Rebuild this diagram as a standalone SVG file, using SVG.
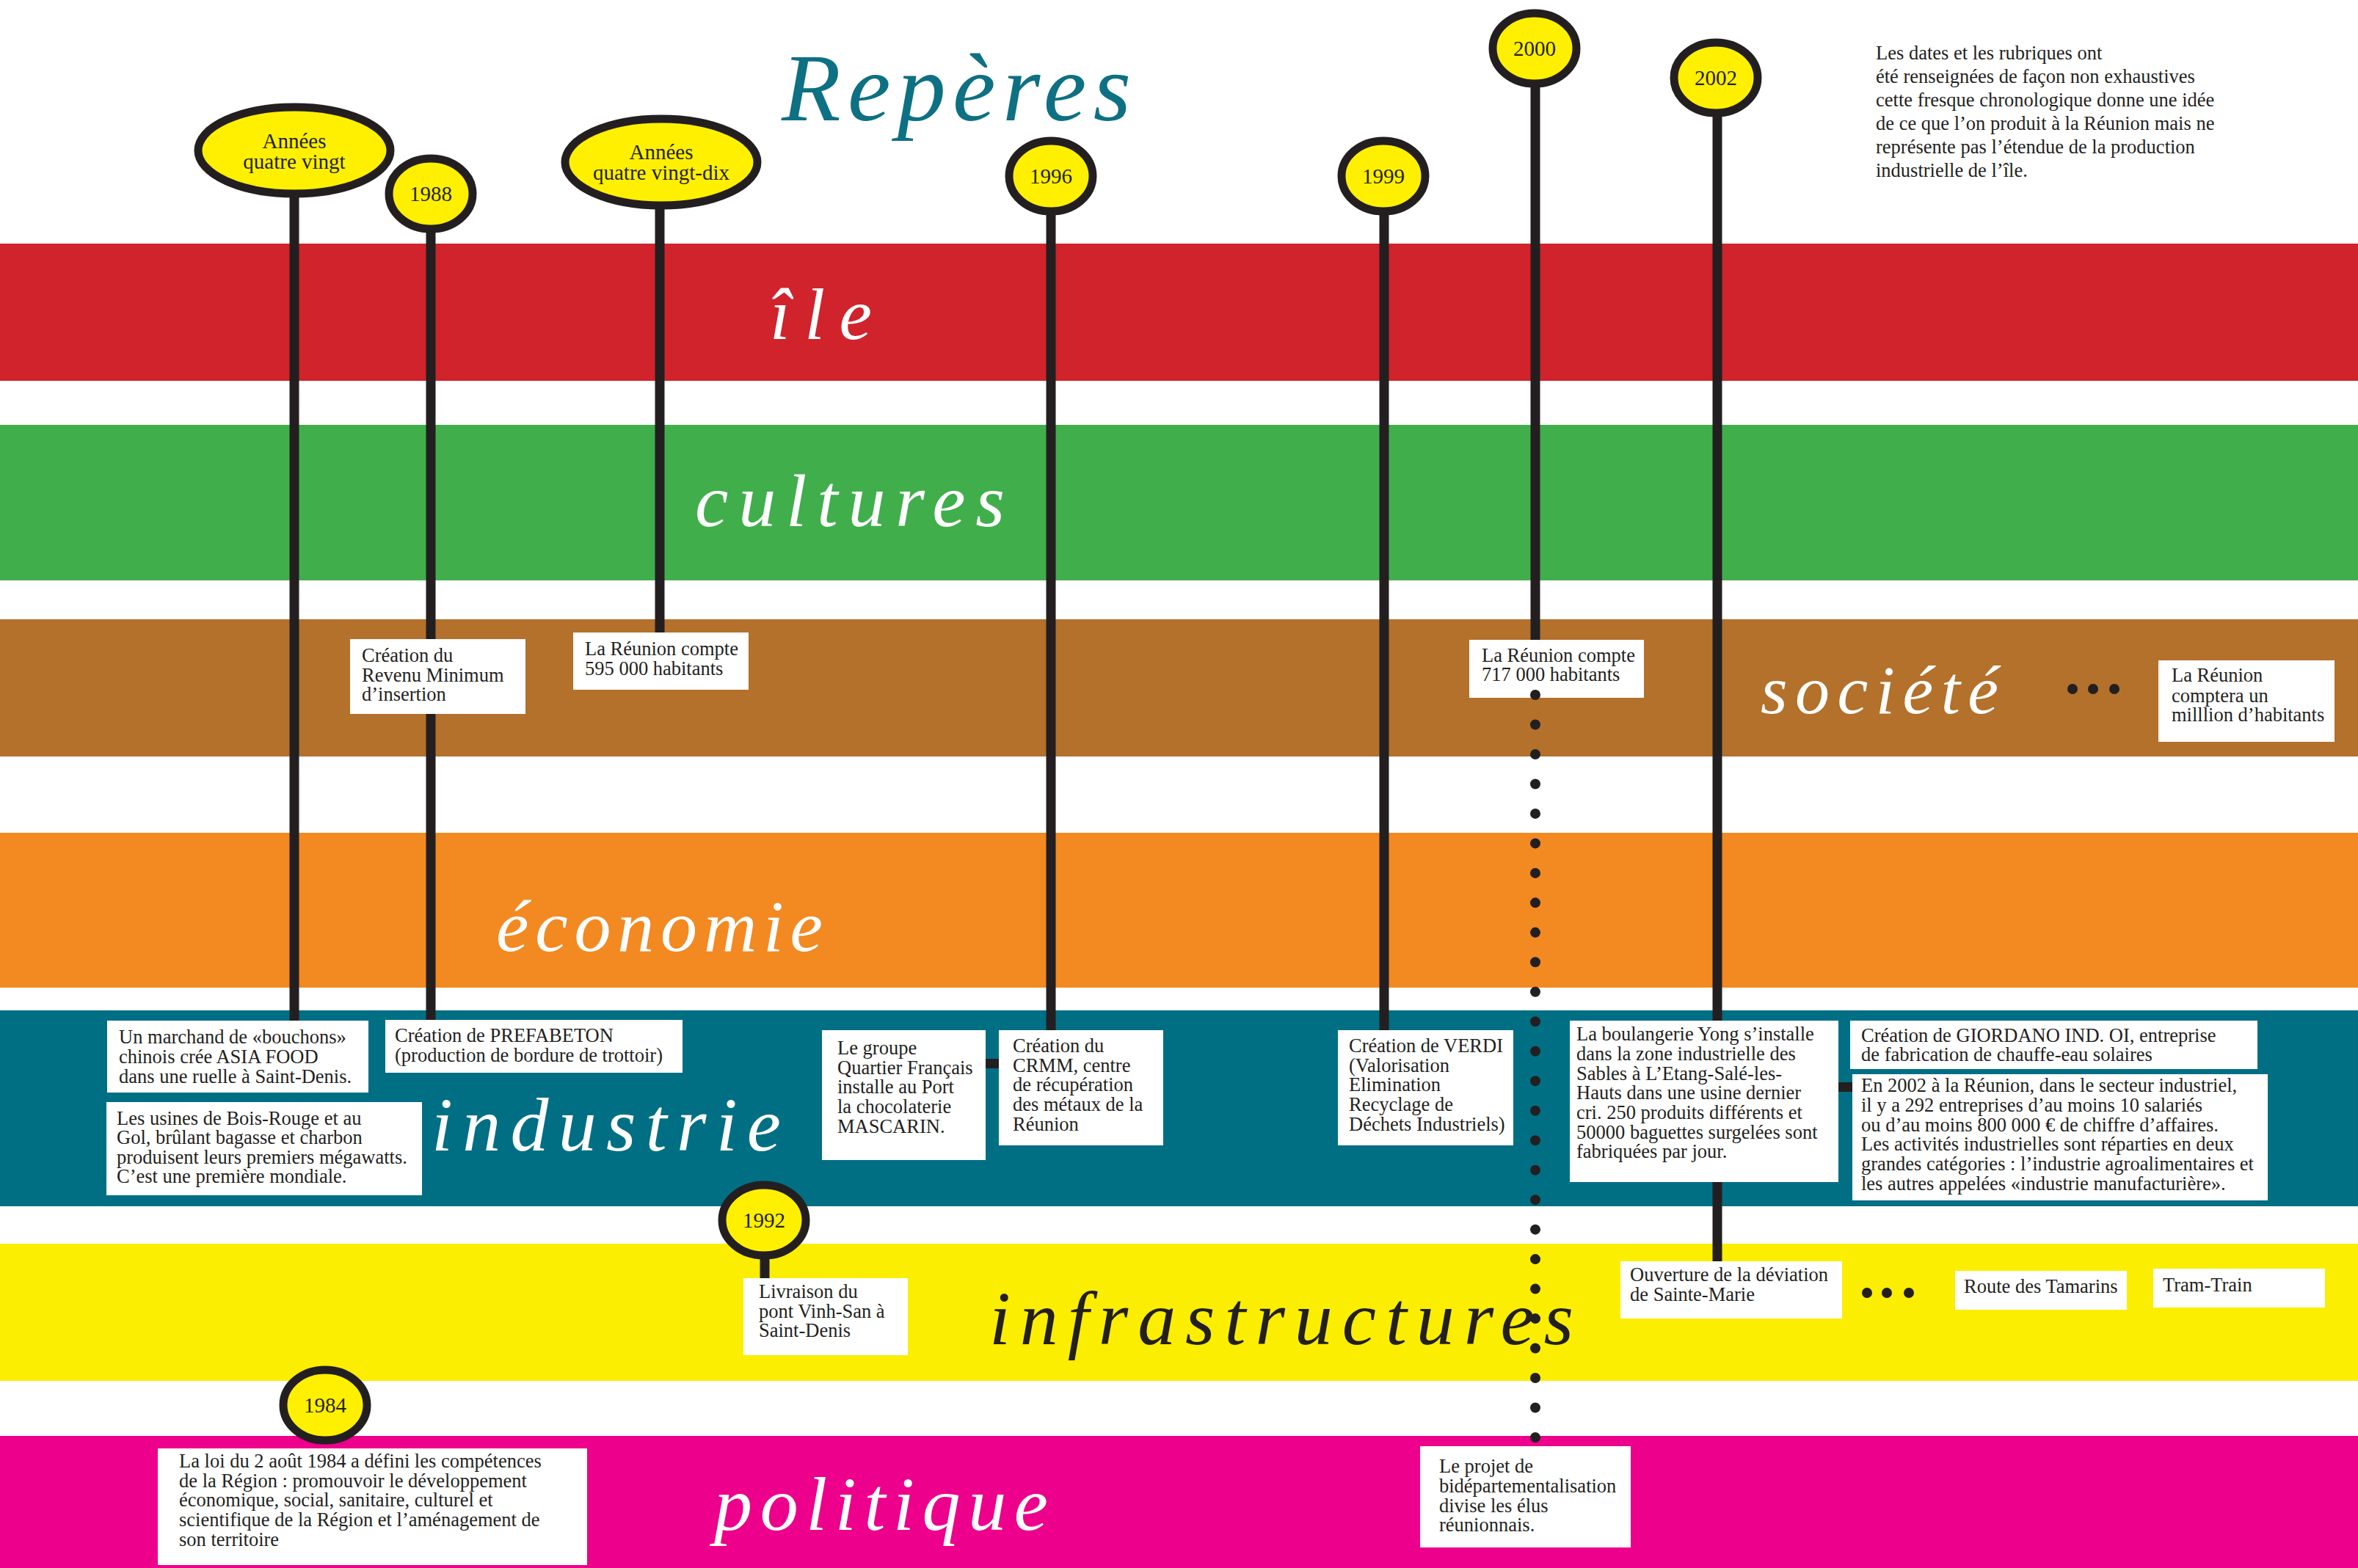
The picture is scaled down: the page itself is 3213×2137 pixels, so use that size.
<svg xmlns="http://www.w3.org/2000/svg" width="3213" height="2137" viewBox="0 0 3213 2137">
<style>
.stem{stroke:#231F20;stroke-width:13;fill:none}
.pin{fill:#FFF000;stroke:#231F20;stroke-width:11}
.box{fill:#FFFFFF}
.t{font-family:"Liberation Serif","Times New Roman",serif;font-size:26.5px;fill:#231F20}
.pt{font-family:"Liberation Serif","Times New Roman",serif;font-size:29px;fill:#231F20;text-anchor:middle}
.lbl{font-family:"Liberation Serif","DejaVu Serif",serif;font-style:italic;font-weight:normal;fill:#FFFFFF}
</style>
<rect width="3213" height="2137" fill="#FFFFFF"/>
<g id="bands">
<rect x="0" y="332" width="3213" height="187" fill="#D0232B"/>
<rect x="0" y="579" width="3213" height="212" fill="#41AE4C"/>
<rect x="0" y="844" width="3213" height="187" fill="#B3712B"/>
<rect x="0" y="1135" width="3213" height="211" fill="#F38921"/>
<rect x="0" y="1377" width="3213" height="267" fill="#006F84"/>
<rect x="0" y="1695" width="3213" height="187" fill="#FBEE00"/>
<rect x="0" y="1957" width="3213" height="180" fill="#EC008C"/>
</g>
<g id="labels">
<text class="lbl" x="1065" y="164" font-size="132" style="fill:#0E7083" textLength="476" lengthAdjust="spacing">Repères</text>
<text class="lbl" x="1049" y="462" font-size="100" textLength="139" lengthAdjust="spacing">île</text>
<text class="lbl" x="947" y="717" font-size="102" textLength="422" lengthAdjust="spacing">cultures</text>
<text class="lbl" x="676" y="1296" font-size="100" textLength="445" lengthAdjust="spacing">économie</text>
<text class="lbl" x="2399" y="972" font-size="94" textLength="324" lengthAdjust="spacing">société</text>
<text class="lbl" x="588" y="1568" font-size="104" textLength="476" lengthAdjust="spacing">industrie</text>
<text class="lbl" x="1348" y="1832" font-size="104" style="fill:#231F20" textLength="796" lengthAdjust="spacing">infrastructures</text>
<text class="lbl" x="973" y="2085" font-size="104" textLength="455" lengthAdjust="spacing">politique</text>
</g>
<g id="note">
<text class="t"><tspan x="2556" y="81">Les dates et les rubriques ont</tspan><tspan x="2556" y="113">été renseignées de façon non exhaustives</tspan><tspan x="2556" y="145">cette fresque chronologique donne une idée</tspan><tspan x="2556" y="177">de ce que l’on produit à la Réunion mais ne</tspan><tspan x="2556" y="209">représente pas l’étendue de la production</tspan><tspan x="2556" y="241">industrielle de l’île.</tspan></text>
</g>
<g id="connectors">
<line class="stem" x1="401" y1="265" x2="401" y2="1391"/>
<line class="stem" x1="587" y1="312" x2="587" y2="1390"/>
<line class="stem" x1="899" y1="280" x2="899" y2="862"/>
<line class="stem" x1="1432" y1="288" x2="1432" y2="1404"/>
<line class="stem" x1="1886" y1="288" x2="1886" y2="1404"/>
<line class="stem" x1="2092" y1="114" x2="2092" y2="872"/>
<line class="stem" x1="2340" y1="154" x2="2340" y2="1719"/>
<line class="stem" x1="1042" y1="1711" x2="1042" y2="1742"/>
<rect x="1343" y="1443" width="20" height="13" fill="#231F20"/>
<rect x="2503" y="1475" width="23" height="13" fill="#231F20"/>
</g>
<g id="pin-80"><ellipse class="pin" cx="401" cy="205" rx="131" ry="59"/><text class="pt"><tspan x="401" y="202">Années</tspan><tspan x="401" y="230">quatre vingt</tspan></text></g>
<g id="pin-1988"><ellipse class="pin" cx="587" cy="264" rx="57" ry="48"/><text class="pt" x="587" y="274">1988</text></g>
<g id="pin-90"><ellipse class="pin" cx="901" cy="221" rx="131" ry="59"/><text class="pt"><tspan x="901" y="217">Années</tspan><tspan x="901" y="245">quatre vingt-dix</tspan></text></g>
<g id="pin-1996"><ellipse class="pin" cx="1432" cy="240" rx="57" ry="48"/><text class="pt" x="1432" y="250">1996</text></g>
<g id="pin-1999"><ellipse class="pin" cx="1885" cy="240" rx="57" ry="48"/><text class="pt" x="1885" y="250">1999</text></g>
<g id="pin-2000"><ellipse class="pin" cx="2091" cy="66" rx="57" ry="48"/><text class="pt" x="2091" y="76">2000</text></g>
<g id="pin-2002"><ellipse class="pin" cx="2338" cy="106" rx="57" ry="48"/><text class="pt" x="2338" y="116">2002</text></g>
<g id="pin-1992"><ellipse class="pin" cx="1041" cy="1663" rx="57" ry="48"/><text class="pt" x="1041" y="1673">1992</text></g>
<g id="pin-1984"><ellipse class="pin" cx="443" cy="1915" rx="57" ry="48"/><text class="pt" x="443" y="1925">1984</text></g>

<g id="box-rmi"><rect class="box" x="477" y="871" width="239" height="102"/><text class="t"><tspan x="493" y="902">Création du</tspan><tspan x="493" y="929">Revenu Minimum</tspan><tspan x="493" y="955">d’insertion</tspan></text></g>
<g id="box-595"><rect class="box" x="781" y="862" width="239" height="78"/><text class="t"><tspan x="797" y="893">La Réunion compte</tspan><tspan x="797" y="920">595 000 habitants</tspan></text></g>
<g id="box-717"><rect class="box" x="2002" y="872" width="238" height="79"/><text class="t"><tspan x="2019" y="902">La Réunion compte</tspan><tspan x="2019" y="928">717 000 habitants</tspan></text></g>
<g id="dots-2000"><line x1="2092" y1="947" x2="2092" y2="1960" stroke="#231F20" stroke-width="14" stroke-linecap="round" stroke-dasharray="0 40.48"/></g>
<g id="ellipsis-societe"><circle cx="2824" cy="939" r="7" fill="#231F20"/><circle cx="2852" cy="939" r="7" fill="#231F20"/><circle cx="2881" cy="939" r="7" fill="#231F20"/></g>
<g id="box-million"><rect class="box" x="2941" y="900" width="240" height="111"/><text class="t"><tspan x="2959" y="929">La Réunion</tspan><tspan x="2959" y="957">comptera un</tspan><tspan x="2959" y="983">milllion d’habitants</tspan></text></g>

<g id="box-asia"><rect class="box" x="146" y="1391" width="356" height="98"/><text class="t"><tspan x="162" y="1422">Un marchand de «bouchons»</tspan><tspan x="162" y="1449">chinois crée ASIA FOOD</tspan><tspan x="162" y="1476">dans une ruelle à Saint-Denis.</tspan></text></g>
<g id="box-prefabeton"><rect class="box" x="525" y="1390" width="405" height="72"/><text class="t"><tspan x="538" y="1420">Création de PREFABETON</tspan><tspan x="538" y="1447">(production de bordure de trottoir)</tspan></text></g>
<g id="box-boisrouge"><rect class="box" x="145" y="1502" width="430" height="127"/><text class="t"><tspan x="159" y="1533">Les usines de Bois-Rouge et au</tspan><tspan x="159" y="1559">Gol, brûlant bagasse et charbon</tspan><tspan x="159" y="1586">produisent leurs premiers mégawatts.</tspan><tspan x="159" y="1612">C’est une première mondiale.</tspan></text></g>
<g id="box-mascarin"><rect class="box" x="1120" y="1404" width="223" height="177"/><text class="t"><tspan x="1141" y="1437">Le groupe</tspan><tspan x="1141" y="1464">Quartier Français</tspan><tspan x="1141" y="1490">installe au Port</tspan><tspan x="1141" y="1517">la chocolaterie</tspan><tspan x="1141" y="1544">MASCARIN.</tspan></text></g>
<g id="box-crmm"><rect class="box" x="1361" y="1404" width="224" height="157"/><text class="t"><tspan x="1380" y="1434">Création du</tspan><tspan x="1380" y="1461">CRMM, centre</tspan><tspan x="1380" y="1487">de récupération</tspan><tspan x="1380" y="1514">des métaux de la</tspan><tspan x="1380" y="1541">Réunion</tspan></text></g>
<g id="box-verdi"><rect class="box" x="1823" y="1404" width="239" height="157"/><text class="t"><tspan x="1838" y="1434">Création de VERDI</tspan><tspan x="1838" y="1461">(Valorisation</tspan><tspan x="1838" y="1487">Elimination</tspan><tspan x="1838" y="1514">Recyclage de</tspan><tspan x="1838" y="1541">Déchets Industriels)</tspan></text></g>
<g id="box-yong"><rect class="box" x="2139" y="1391" width="366" height="220"/><text class="t"><tspan x="2148" y="1418">La boulangerie Yong s’installe</tspan><tspan x="2148" y="1445">dans la zone industrielle des</tspan><tspan x="2148" y="1472">Sables à L’Etang-Salé-les-</tspan><tspan x="2148" y="1498">Hauts dans une usine dernier</tspan><tspan x="2148" y="1525">cri. 250 produits différents et</tspan><tspan x="2148" y="1552">50000 baguettes surgelées sont</tspan><tspan x="2148" y="1578">fabriquées par jour.</tspan></text></g>
<g id="box-giordano"><rect class="box" x="2521" y="1391" width="555" height="66"/><text class="t"><tspan x="2536" y="1420">Création de GIORDANO IND. OI, entreprise</tspan><tspan x="2536" y="1446">de fabrication de chauffe-eau solaires</tspan></text></g>
<g id="box-2002"><rect class="box" x="2524" y="1464" width="566" height="172"/><text class="t"><tspan x="2536" y="1488">En 2002 à la Réunion, dans le secteur industriel,</tspan><tspan x="2536" y="1515">il y a 292 entreprises d’au moins 10 salariés</tspan><tspan x="2536" y="1542">ou d’au moins 800 000 € de chiffre d’affaires.</tspan><tspan x="2536" y="1568">Les activités industrielles sont réparties en deux</tspan><tspan x="2536" y="1595">grandes catégories : l’industrie agroalimentaires et</tspan><tspan x="2536" y="1622">les autres appelées «industrie manufacturière».</tspan></text></g>

<g id="box-vinhsan"><rect class="box" x="1013" y="1742" width="224" height="105"/><text class="t"><tspan x="1034" y="1769">Livraison du</tspan><tspan x="1034" y="1796">pont Vinh-San à</tspan><tspan x="1034" y="1822">Saint-Denis</tspan></text></g>
<g id="box-stemarie"><rect class="box" x="2208" y="1719" width="302" height="78"/><text class="t"><tspan x="2221" y="1746">Ouverture de la déviation</tspan><tspan x="2221" y="1773">de Sainte-Marie</tspan></text></g>
<g id="ellipsis-infra"><circle cx="2544" cy="1762" r="7" fill="#231F20"/><circle cx="2571" cy="1762" r="7" fill="#231F20"/><circle cx="2601" cy="1762" r="7" fill="#231F20"/></g>
<g id="box-tamarins"><rect class="box" x="2664" y="1732" width="234" height="53"/><text class="t" x="2676" y="1762">Route des Tamarins</text></g>
<g id="box-tramtrain"><rect class="box" x="2934" y="1729" width="234" height="53"/><text class="t" x="2947" y="1760">Tram-Train</text></g>

<g id="box-loi1984"><rect class="box" x="215" y="1974" width="585" height="159"/><text class="t"><tspan x="244" y="2000">La loi du 2 août 1984 a défini les compétences</tspan><tspan x="244" y="2027">de la Région : promouvoir le développement</tspan><tspan x="244" y="2053">économique, social, sanitaire, culturel et</tspan><tspan x="244" y="2080">scientifique de la Région et l’aménagement de</tspan><tspan x="244" y="2107">son territoire</tspan></text></g>
<g id="box-bidep"><rect class="box" x="1935" y="1971" width="287" height="138"/><text class="t"><tspan x="1961" y="2007">Le projet de</tspan><tspan x="1961" y="2034">bidépartementalisation</tspan><tspan x="1961" y="2061">divise les élus</tspan><tspan x="1961" y="2087">réunionnais.</tspan></text></g>
</svg>
